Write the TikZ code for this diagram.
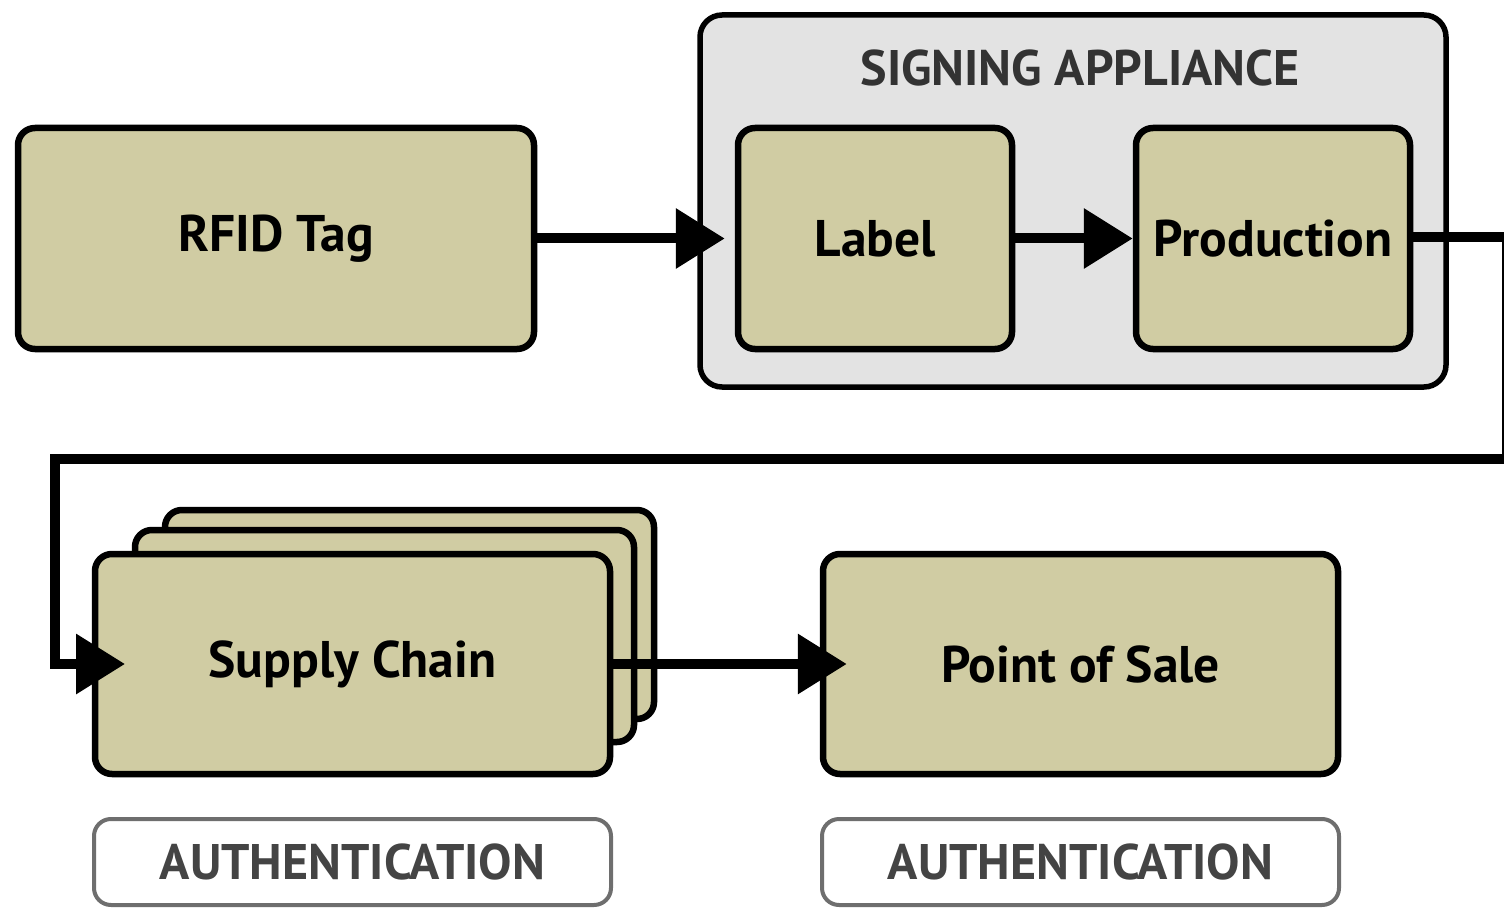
\documentclass[tikz,border=0pt]{standalone}
\usepackage{fontspec}
\setmainfont{PT Sans}
\usetikzlibrary{arrows.meta}
\definecolor{tanfill}{RGB}{208,204,163}
\definecolor{panelfill}{RGB}{227,227,227}
\definecolor{titlegray}{RGB}{51,51,51}
\definecolor{authgray}{RGB}{68,68,68}
\definecolor{authborder}{RGB}{110,110,110}
\begin{document}
\begin{tikzpicture}[x=1pt,y=-1pt,
  box/.style={draw=black, line width=6.5pt, fill=tanfill, rounded corners=17pt, inner sep=0pt,
    font=\fontsize{51.5}{56}\selectfont\bfseries, text=black},
  panel/.style={draw=black, line width=5.5pt, fill=panelfill, rounded corners=22pt, inner sep=0pt},
  authbox/.style={draw=authborder, line width=4pt, fill=white, rounded corners=17pt, inner sep=0pt,
    font=\fontsize{50}{54}\selectfont\bfseries, text=authgray},
  conn/.style={line width=10pt, -{Triangle[length=49pt,width=58pt]}}
]
\useasboundingbox (0,0) rectangle (1504,909);

% top row
\node[box, minimum width=516pt, minimum height=221pt] (rfid) at (276,238.5) {RFID Tag};
\node[panel, minimum width=746pt, minimum height=372pt] (panel) at (1073,201) {};
\node[font=\fontsize{50}{54}\selectfont\bfseries, text=titlegray] (title) at (1080,68) {SIGNING APPLIANCE};
\node[box, minimum width=274pt, minimum height=221pt] (label) at (875,238.5) {Label};
\node[box, minimum width=274pt, minimum height=221pt] (prod) at (1273,238.5) {Production};

% bottom row
\node[box, minimum width=489pt, minimum height=209pt] (sc3) at (409.5,614.5) {};
\node[box, minimum width=499pt, minimum height=212pt] (sc2) at (384.5,636) {};
\node[box, minimum width=515pt, minimum height=220pt] (sc) at (352.5,664) {Supply Chain};
\node[box, minimum width=515pt, minimum height=220pt] (pos) at (1080.5,664) {Point of Sale};

\node[authbox, minimum width=517pt, minimum height=86pt] (auth1) at (352.5,862) {AUTHENTICATION};
\node[authbox, minimum width=517pt, minimum height=86pt] (auth2) at (1080.5,862) {AUTHENTICATION};

% connectors
\coordinate (r1) at (1507,237);
\coordinate (r2) at (1507,459);
\coordinate (l1) at (55,459);
\coordinate (l2) at (55,664);
\coordinate (sctip) at (125,664);

\draw[conn] (rfid.east) -- ([xshift=-10pt]label.west);
\draw[conn] (label.east) -- (prod.west);
\draw[conn, line join=miter] (prod.east |- r1) -- (r1) -- (r2) -- (l1) -- (l2) -- (sctip);
\draw[conn] (sc.east) -- ([xshift=27pt]pos.west);
\end{tikzpicture}
\end{document}
